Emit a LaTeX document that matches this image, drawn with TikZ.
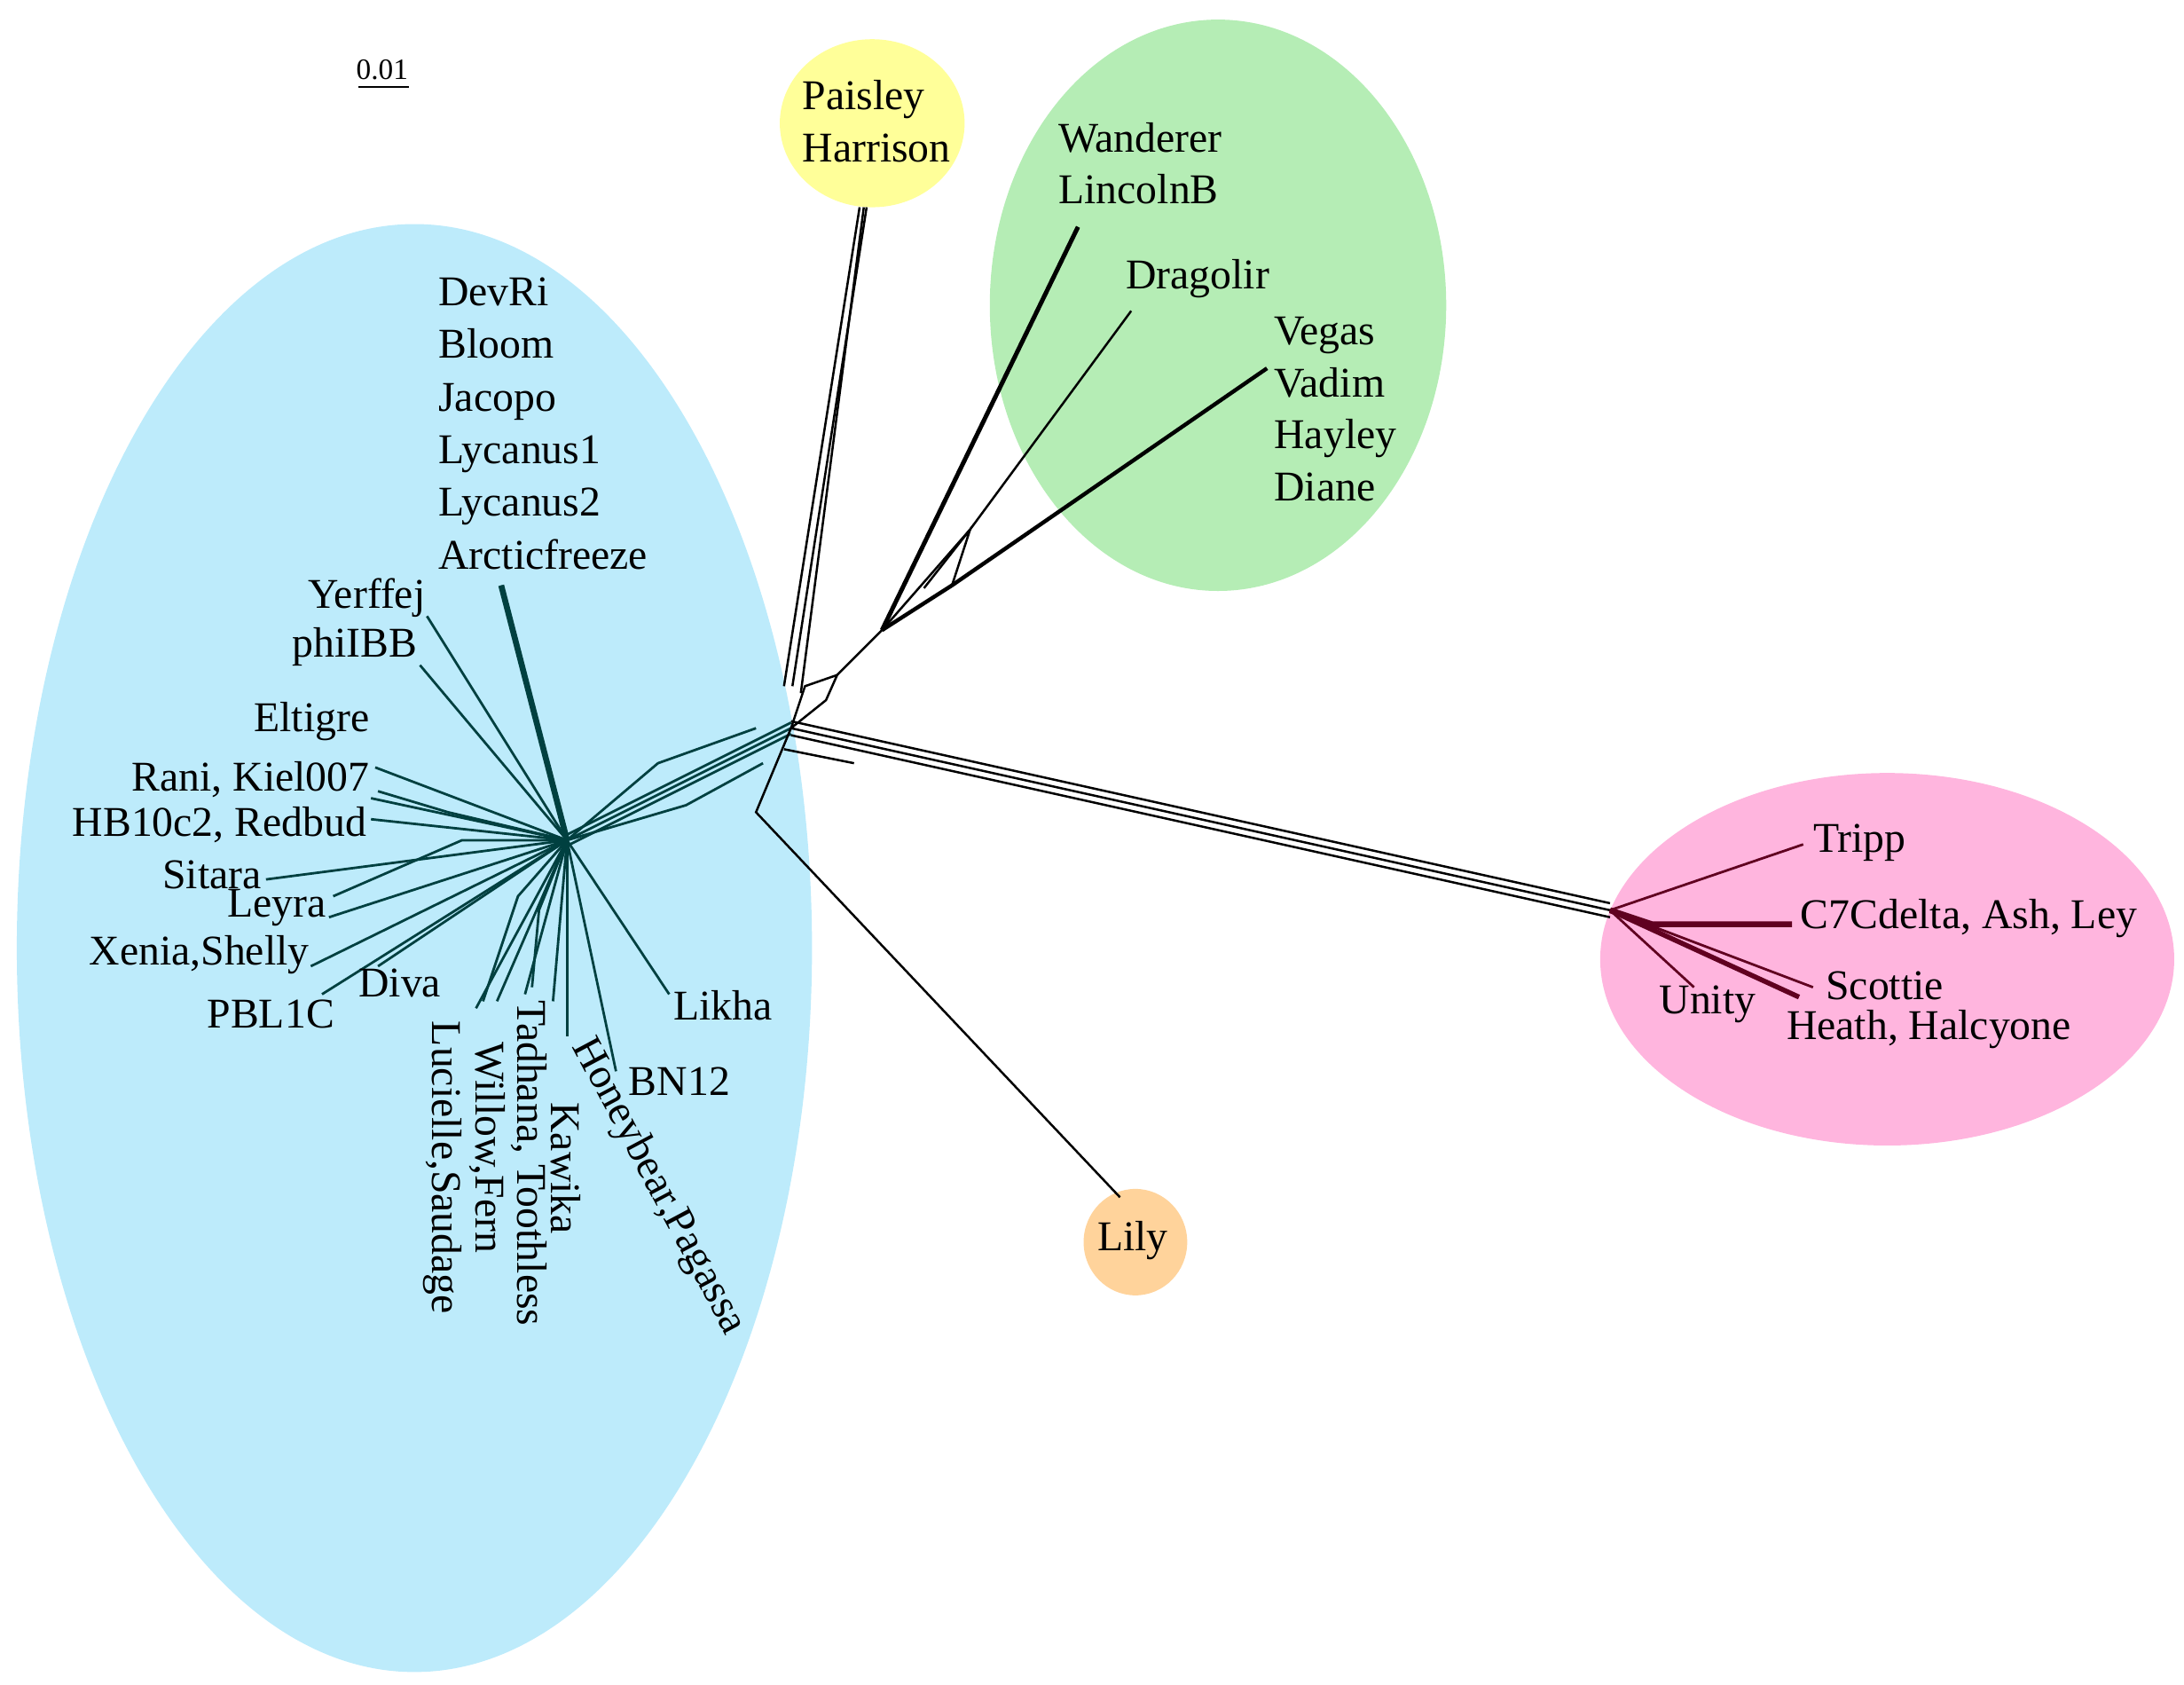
\documentclass[tikz,border=0pt]{standalone}
\usepackage{fontspec}
\setmainfont{Liberation Serif}
\begin{document}
\begin{tikzpicture}[x=0.01cm,y=-0.01cm,
  lab/.style={font=\fontsize{8.6}{10}\selectfont,inner sep=1pt},
  bl/.style={draw=teal!50!black,line width=0.5pt},
  bk/.style={draw=black,line width=0.45pt},
  pk/.style={draw=purple!50!black,line width=0.5pt}]
\useasboundingbox (0,0) rectangle (1560,1203);
\definecolor{cblue}{HTML}{BDEBFB}\definecolor{cyel}{HTML}{FFFF99}
\definecolor{cgreen}{HTML}{B5EDB5}\definecolor{cpink}{HTML}{FFB5DE}
\definecolor{corange}{HTML}{FFD39B}
\fill[cblue] (296,677) ellipse [x radius=284,y radius=517];
\fill[cyel] (623,88) ellipse [x radius=66,y radius=60];
\fill[cgreen] (870,218) ellipse [x radius=163,y radius=204];
\fill[cpink] (1348,685) ellipse [x radius=205,y radius=133];
\fill[corange] (811,887) ellipse [x radius=37,y radius=38];
% scale bar
\node[lab,font=\fontsize{6}{7}\selectfont] (sb) at (273,50) {0.01};
\coordinate (sbl) at (256,62); \coordinate (sbr) at (292,62);
\draw[bk] (sbl) -- (sbr);
% hubs
\coordinate (H) at (565,520); \coordinate (B) at (405,600);
\coordinate (P) at (1150,650);
\foreach \d in {-4,0,4} {\draw[bl] ([yshift=\d*0.01cm]B) -- ([yshift=\d*0.01cm]H);}
\draw[bl] (B) -- (470,545) -- (540,520); \draw[bl] (B) -- (490,575) -- (545,545);
\draw[bk] (H) -- (575,490) -- (598,482) -- (590,500) -- cycle;
% Paisley
\coordinate (Pa) at (617,148);
\draw[bk] (560,490) -- (614,148); \draw[bk] (566,490) -- (619,148); \draw[bk] (572,495) -- (Pa);
% green
\coordinate (G) at (630,450);
\draw[bk] (598,482) -- (G);
\draw[bk,line width=0.9pt] (G) -- (770,162);
\draw[bk] (G) -- (693,378) -- (808,222);
\draw[bk,line width=0.8pt] (G) -- (680,418) -- (905,263);
\draw[bk] (660,420) -- (693,378) -- (680,418);
% pink
\foreach \d in {-5,0,5} {\draw[bk] ([yshift=\d*0.01cm]H) -- ([yshift=\d*0.01cm]P);}
\draw[pk] (P) -- (1288,603); \draw[pk,line width=1.2pt] (P) -- (1180,660) -- (1280,660);
\draw[pk] (P) -- (1295,705); \draw[pk,line width=1pt] (P) -- (1285,712);
\draw[pk] (P) -- (1210,705);
% Lily
\draw[bk] (H) -- (540,580) -- (800,855); \draw[bk] (560,535) -- (610,545);
% blue leaves
\foreach \p in {(358,418),(305,440),(300,475),(268,548),(265,570),(265,585),(190,628),(235,655),(222,690),(230,710),(270,690),(340,720),(355,715),(375,710),(395,715),(405,740),(440,765),(478,710)}
  {\draw[bl] (B) -- \p;}
\draw[bl,line width=1.2pt] (B) -- (358,418);
\draw[bl] (B) -- (330,600) -- (238,640); \draw[bl] (B) -- (370,640) -- (345,715);
\draw[bl] (B) -- (385,650) -- (380,705); \draw[bl] (B) -- (320,580) -- (270,565);
% labels
\node[lab,anchor=south west,align=left,font=\fontsize{8.6}{10.5}\selectfont] (pai) at (569,120) {Paisley\\Harrison};
\node[lab,anchor=south west,align=left,font=\fontsize{8.6}{10.5}\selectfont] (wan) at (752,150) {Wanderer\\LincolnB};
\node[lab,anchor=west] (dra) at (800,199) {Dragolir};
\node[lab,anchor=north west,align=left,font=\fontsize{8.6}{10.6}\selectfont] (veg) at (906,222) {Vegas\\Vadim\\Hayley\\Diane};
\node[lab,anchor=north west,align=left,font=\fontsize{8.6}{10.7}\selectfont] (dev) at (309,194) {DevRi\\Bloom\\Jacopo\\Lycanus1\\Lycanus2\\Arcticfreeze};
\node[lab,anchor=east] (yer) at (308,427) {Yerffej};
\node[lab,anchor=east] (phi) at (302,462) {phiIBB};
\node[lab,anchor=east] (elt) at (268,515) {Eltigre};
\node[lab,anchor=east] (ran) at (268,557) {Rani, Kiel007};
\node[lab,anchor=east] (hb) at (266,589) {HB10c2, Redbud};
\node[lab,anchor=east] (sit) at (191,625) {Sitara};
\node[lab,anchor=east] (ley) at (237,648) {Leyra};
\node[lab,anchor=east] (xen) at (225,682) {Xenia,Shelly};
\node[lab,anchor=east] (pbl) at (243,724) {PBL1C};
\node[lab,anchor=west] (div) at (252,702) {Diva};
\node[lab,anchor=west] (lik) at (477,718) {Likha};
\node[lab,anchor=west] (bn) at (445,772) {BN12};
\node[lab,anchor=west,rotate=-90,align=left] (luc) at (316,725) {Lucielle,Saudage};
\node[lab,anchor=west,rotate=-90] (wil) at (348,740) {Willow,Fern};
\node[lab,anchor=west,rotate=-90] (tad) at (378,710) {Tadhana, Toothless};
\node[lab,anchor=west,rotate=-90] (kaw) at (404,783) {Kawika};
\node[lab,anchor=west,rotate=-62] (hon) at (413,740) {Honeybear,Pagassa};
\node[lab,anchor=west] (tri) at (1291,602) {Tripp};
\node[lab,anchor=west] (c7) at (1282,656) {C7Cdelta, Ash, Ley};
\node[lab,anchor=west] (sco) at (1300,704) {Scottie};
\node[lab,anchor=west] (hea) at (1272,735) {Heath, Halcyone};
\node[lab,anchor=west] (uni) at (1181,717) {Unity};
\node[lab] (lil) at (809,886) {Lily};
\end{tikzpicture}
\end{document}
